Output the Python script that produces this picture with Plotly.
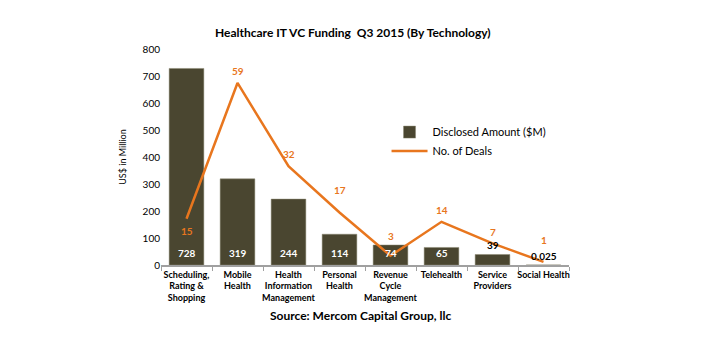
import plotly.graph_objects as go

categories = ["Scheduling,<br>Rating &<br>Shopping", "Mobile<br>Health", "Health<br>Information<br>Management",
              "Personal<br>Health", "Revenue<br>Cycle<br>Management", "Telehealth", "Service<br>Providers", "Social Health"]
amount = [728, 319, 244, 114, 74, 65, 39, 0.025]
amount_labels = ["728", "319", "244", "114", "74", "65", "39", "0.025"]
deals = [15, 59, 32, 17, 3, 14, 7, 1]
y_ticks = [0, 100, 200, 300, 400, 500, 600, 700, 800]

FONT = "Lato, 'Open Sans', sans-serif"
BAR = "#4A4630"
LINE = "#E8761E"

fig = go.Figure()
fig.add_trace(go.Bar(x=categories, y=amount, name="Disclosed Amount ($M)",
                     marker=dict(color=BAR, line=dict(color="#8A8670", width=0.5)),
                     yaxis="y"))
fig.add_trace(go.Scatter(x=categories, y=deals, name="No. of Deals", mode="lines",
                         line=dict(color=LINE, width=2.5), yaxis="y2"))

annotations = []
for c, v, lab in zip(categories, amount, amount_labels):
    inside = v > 50
    annotations.append(dict(x=c, y=0 if inside else v, xref="x", yref="y", text=f"<b>{lab}</b>",
                            showarrow=False, yanchor="bottom", yshift=4 if inside else 1,
                            font=dict(family=FONT, size=10, color="white" if inside else "black")))
deal_shift = [-12, 12, 12, 23, 20, 12, 11, 22]
for c, d, s in zip(categories, deals, deal_shift):
    annotations.append(dict(x=c, y=d, xref="x", yref="y2", text=f"<b>{d}</b>", showarrow=False,
                            yanchor="middle", yshift=s,
                            font=dict(family=FONT, size=10, color=LINE)))
annotations.append(dict(x=0.49, y=-(315 - 265) / 216, xref="paper", yref="paper",
                        text="<b>Source: Mercom Capital Group, llc</b>", yanchor="middle",
                        showarrow=False, font=dict(family=FONT, size=12, color="black")))

fig.update_layout(
    width=720, height=340,
    margin=dict(l=161, r=151, t=49, b=75),
    paper_bgcolor="white", plot_bgcolor="white",
    font=dict(family=FONT, size=10, color="black"),
    title=dict(text="<b>Healthcare IT VC Funding  Q3 2015 (By Technology)</b>", x=0.49, xanchor="center",
               y=1 - 33 / 340, yanchor="middle", font=dict(family=FONT, size=12, color="black")),
    bargap=0.32,
    showlegend=True,
    legend=dict(x=398 / 720, y=1 - 108 / 340, xref="paper", yref="paper", xanchor="left", yanchor="top",
                bgcolor="rgba(0,0,0,0)", font=dict(family=FONT, size=11, color="black"),
                tracegroupgap=5, itemwidth=36),
    xaxis=dict(type="category", showline=True, linecolor="#A0A0A0", linewidth=1.5,
               ticks="outside", tickson="boundaries", ticklen=4, tickcolor="#A0A0A0",
               tickvals=categories, ticktext=[f"<b>{c}</b>" for c in categories],
               tickfont=dict(family=FONT, size=9, color="black"), tickangle=0, showgrid=False),
    yaxis=dict(range=[0, 800], tickvals=y_ticks, showgrid=False, zeroline=False, showline=False,
               ticks="", tickfont=dict(family=FONT, size=10, color="black"),
               title=dict(text="US$ in Million", font=dict(family=FONT, size=9, color="black"), standoff=14)),
    yaxis2=dict(range=[0, 70], overlaying="y", side="right", visible=False, showgrid=False),
    annotations=annotations,
)

fig.write_html("out.html")
